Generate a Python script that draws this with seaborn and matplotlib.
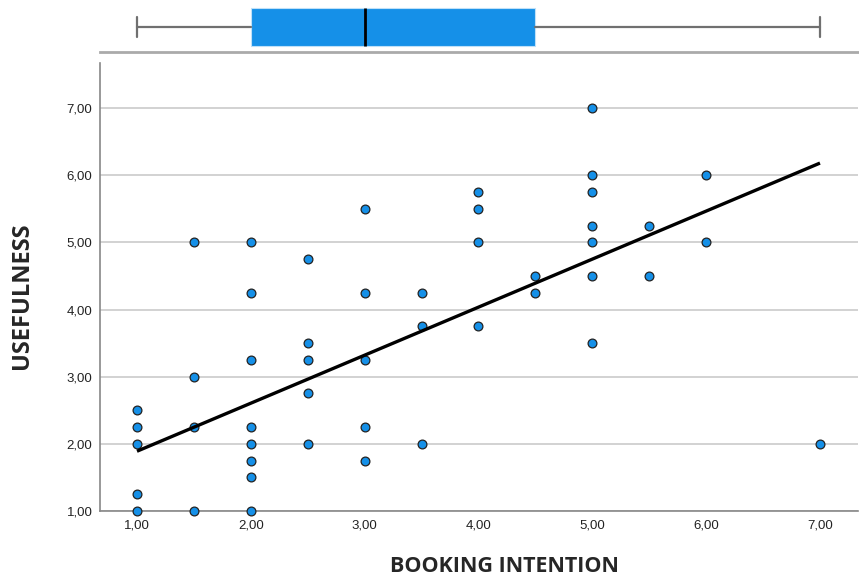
import matplotlib
matplotlib.use('Agg')
import matplotlib.pyplot as plt
import seaborn as sns
import pandas as pd
import numpy as np

#===================
# datos
booking = [1.0, 1.0, 1.0, 1.0, 1.0,
           1.5, 1.5, 1.5, 1.5,
           2.0, 2.0, 2.0, 2.0, 2.0, 2.0, 2.0, 2.0,
           2.5, 2.5, 2.5, 2.5, 2.5,
           3.0, 3.0, 3.0, 3.0, 3.0,
           3.5, 3.5, 3.5,
           4.0, 4.0, 4.0, 4.0,
           4.5, 4.5,
           5.0, 5.0, 5.0, 5.0, 5.0, 5.0, 5.0,
           5.5, 5.5,
           6.0, 6.0,
           7.0]
usefulness = [2.5, 2.25, 2.0, 1.25, 1.0,
              5.0, 3.0, 2.25, 1.0,
              5.0, 4.25, 3.25, 2.25, 2.0, 1.75, 1.5, 1.0,
              4.75, 3.5, 3.25, 2.75, 2.0,
              5.5, 4.25, 3.25, 2.25, 1.75,
              4.25, 3.75, 2.0,
              5.75, 5.5, 5.0, 3.75,
              4.5, 4.25,
              7.0, 6.0, 5.75, 5.25, 5.0, 4.5, 3.5,
              5.25, 4.5,
              6.0, 5.0,
              2.0]

# recta de ajuste tal como aparece (SPSS, con puntos superpuestos)
fit_intercept = 1.175
fit_slope = 0.715

# resumen del boxplot de arriba (SPSS)
box_min, box_q1, box_med, box_q3, box_max = 1.0, 2.0, 3.0, 4.5, 7.0

tick_vals = [1, 2, 3, 4, 5, 6, 7]
tick_labels = ['1,00', '2,00', '3,00', '4,00', '5,00', '6,00', '7,00']

df = pd.DataFrame({'BOOKING INTENTION': booking, 'USEFULNESS': usefulness})
#===================

sns.set_style('white')
plt.rcParams['font.family'] = ['Liberation Sans', 'DejaVu Sans']

blue = '#1590E8'

fig = plt.figure(figsize=(8.59, 5.79), dpi=100)
ax = fig.add_axes([100/859, 1 - 511/579, 758/859, 448/579])
ax_box = fig.add_axes([100/859, 1 - 52/579, 758/859, 52/579], sharex=ax)

# scatter
sns.scatterplot(x='BOOKING INTENTION', y='USEFULNESS', data=df, ax=ax,
                color=blue, edgecolor='#222222', linewidth=0.9, s=40,
                zorder=3, clip_on=False)

# recta
xs = np.array([min(booking), max(booking)])
ax.plot(xs, fit_intercept + fit_slope * xs, color='black', lw=2.4, zorder=4,
        solid_capstyle='butt')

ax.set_xlim(0.675, 7.334)
ax.set_ylim(1.0, 7.67)
ax.set_xticks(tick_vals)
ax.set_xticklabels(tick_labels, fontsize=9.5)
ax.set_yticks(tick_vals)
ax.set_yticklabels(tick_labels, fontsize=9.5)
ax.yaxis.grid(True, color='#CFCFCF', lw=1.3)
ax.set_axisbelow(True)
ax.tick_params(axis='x', length=0, pad=6, colors='#222222')
ax.tick_params(axis='y', length=2.5, pad=3, colors='#222222', color='#888888')
for s in ['top', 'right']:
    ax.spines[s].set_visible(False)
for s in ['left', 'bottom']:
    ax.spines[s].set_color('#888888')
    ax.spines[s].set_linewidth(1.2)

ax.set_xlabel('BOOKING INTENTION', fontsize=15.5, fontweight='bold',
              family=['Open Sans', 'DejaVu Sans'], va='center')
ax.set_ylabel('USEFULNESS', fontsize=17, fontweight='bold',
              family=['Open Sans', 'DejaVu Sans'], va='center')
# SPSS no centra los titulos en el eje
ax.xaxis.set_label_coords(0.534, -0.123)
ax.yaxis.set_label_coords(-0.103, 0.48)

# boxplot marginal con los cuartiles de SPSS
stats = [dict(whislo=box_min, q1=box_q1, med=box_med, q3=box_q3,
              whishi=box_max, fliers=[])]
ax_box.bxp(stats, positions=[0], widths=0.8, orientation='horizontal',
           patch_artist=True, manage_ticks=False, capwidths=0.4,
           boxprops=dict(facecolor=blue, edgecolor='#BFE0F8', linewidth=0.8),
           medianprops=dict(color='black', linewidth=2),
           whiskerprops=dict(color='#707070', linewidth=1.6),
           capprops=dict(color='#707070', linewidth=1.6))
ax_box.set_ylim(0.52, -0.56)
ax_box.tick_params(left=False, bottom=False, labelleft=False, labelbottom=False)
for s in ['top', 'right', 'left']:
    ax_box.spines[s].set_visible(False)
ax_box.spines['bottom'].set_color('#AAAAAA')
ax_box.spines['bottom'].set_linewidth(2)
ax_box.patch.set_alpha(0)

fig.savefig('out.png', dpi=100)
